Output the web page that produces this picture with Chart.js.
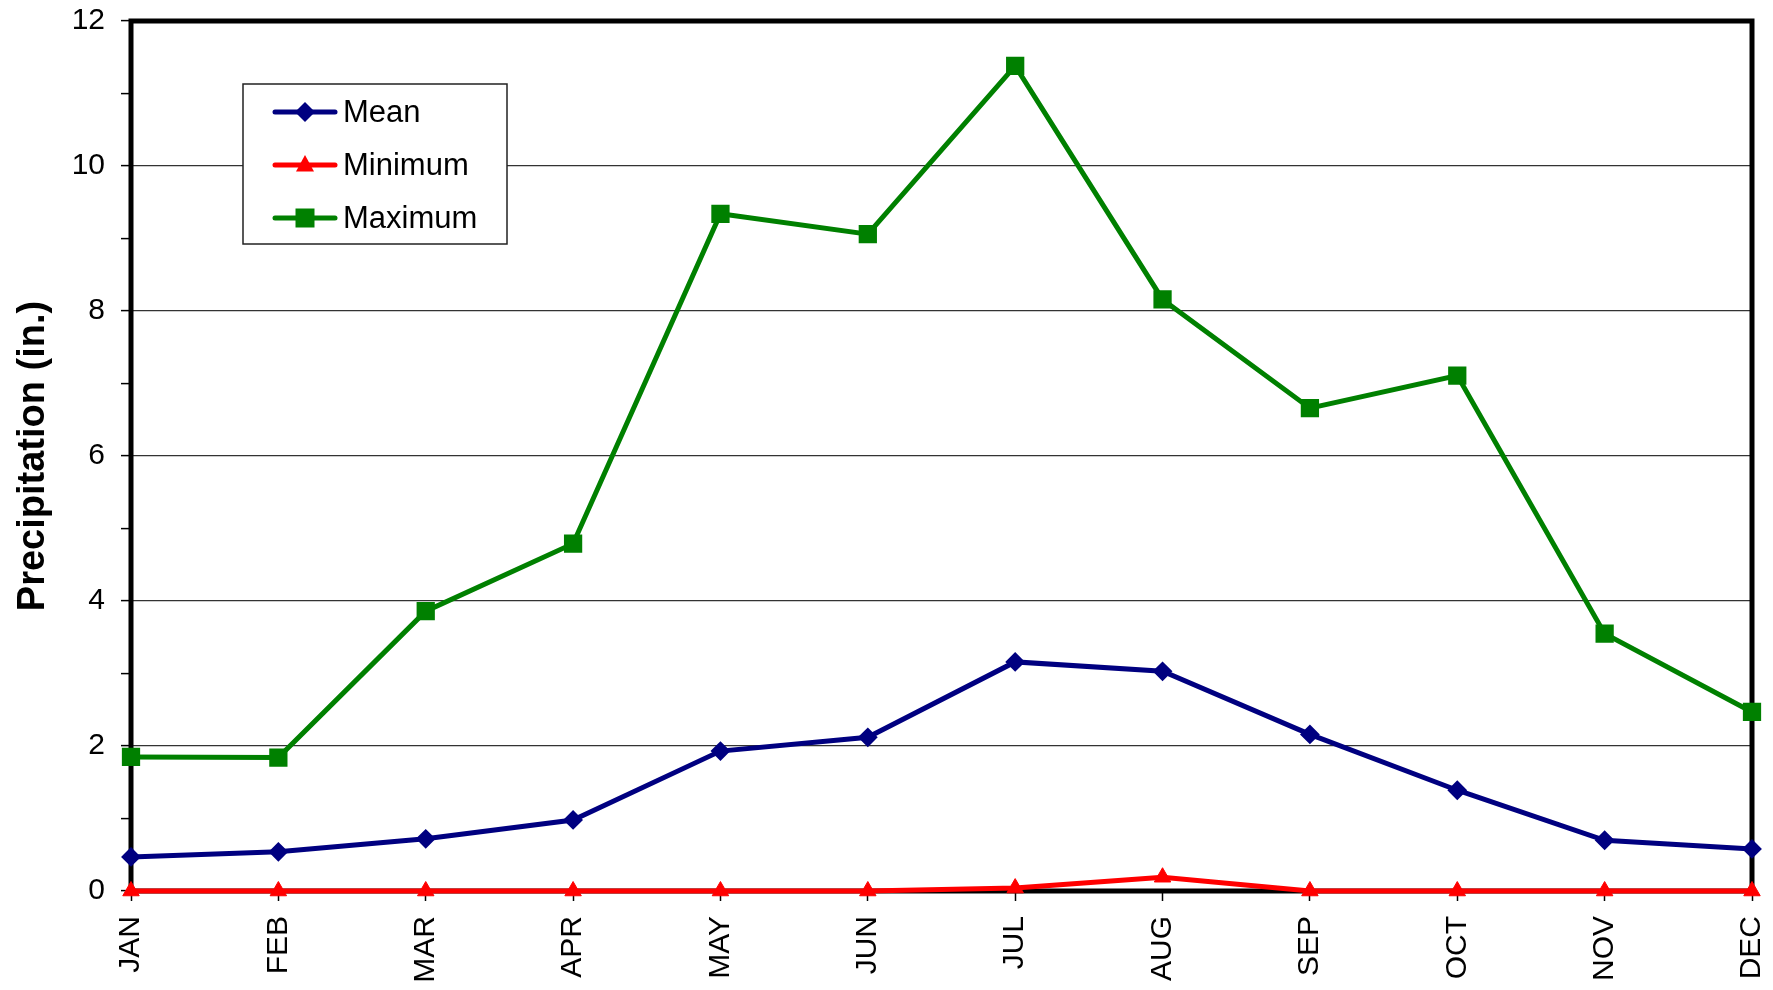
<!DOCTYPE html>
<html>
<head>
<meta charset="utf-8">
<script src="https://cdn.jsdelivr.net/npm/chart.js@4/dist/chart.umd.min.js"></script>
<style>
  html, body { margin: 0; padding: 0; background: #ffffff; }
  #wrap { width: 1773px; height: 990px; position: relative; }
</style>
</head>
<body>
<div id="wrap"><canvas id="c" width="1773" height="990"></canvas></div>
<script>
const months = ['JAN','FEB','MAR','APR','MAY','JUN','JUL','AUG','SEP','OCT','NOV','DEC'];
const meanValues = [0.47, 0.54, 0.72, 0.98, 1.93, 2.12, 3.16, 3.03, 2.16, 1.39, 0.70, 0.58];
const minValues  = [0, 0, 0, 0, 0, 0, 0.04, 0.19, 0, 0, 0, 0];
const maxValues  = [1.85, 1.84, 3.86, 4.79, 9.34, 9.06, 11.38, 8.16, 6.66, 7.11, 3.55, 2.47];
const yAxisTitle = 'Precipitation (in.)';
const seriesNames = ['Mean', 'Minimum', 'Maximum'];

const FONT = "'Liberation Sans', Arial, Helvetica, sans-serif";

const framePlugin = {
  id: 'frame',
  beforeDatasetsDraw(chart) {
    const a = chart.chartArea, ctx = chart.ctx;
    ctx.save();
    ctx.strokeStyle = '#000';
    ctx.lineWidth = 5;
    ctx.strokeRect(a.left, a.top, a.right - a.left, a.bottom - a.top);
    ctx.restore();
  }
};

function drawMarker(ctx, style, x, y, color) {
  ctx.save();
  ctx.fillStyle = color;
  ctx.beginPath();
  if (style === 'rectRot') {
    const r = 10;
    ctx.moveTo(x, y - r); ctx.lineTo(x + r, y); ctx.lineTo(x, y + r); ctx.lineTo(x - r, y);
  } else if (style === 'triangle') {
    const r = 10;
    ctx.moveTo(x, y - r); ctx.lineTo(x + r * 0.9, y + r * 0.65); ctx.lineTo(x - r * 0.9, y + r * 0.65);
  } else {
    const s = 9.5;
    ctx.rect(x - s, y - s, 2 * s, 2 * s);
  }
  ctx.closePath();
  ctx.fill();
  ctx.restore();
}

const legendPlugin = {
  id: 'boxLegend',
  afterDatasetsDraw(chart) {
    const ctx = chart.ctx;
    const bx = 243, by = 84, bw = 264, bh = 160;
    ctx.save();
    ctx.fillStyle = '#fff';
    ctx.fillRect(bx, by, bw, bh);
    ctx.strokeStyle = '#222';
    ctx.lineWidth = 1.5;
    ctx.strokeRect(bx, by, bw, bh);
    const rows = [112, 165, 218];
    chart.data.datasets.forEach((ds, i) => {
      const y = rows[i];
      ctx.strokeStyle = ds.borderColor;
      ctx.lineWidth = 5;
      ctx.lineCap = 'round';
      ctx.beginPath();
      ctx.moveTo(275, y); ctx.lineTo(335, y);
      ctx.stroke();
      drawMarker(ctx, ds.pointStyle, 305, y, ds.pointBackgroundColor);
      ctx.fillStyle = '#000';
      ctx.font = '31px ' + FONT;
      ctx.textBaseline = 'middle';
      ctx.textAlign = 'left';
      ctx.fillText(ds.label, 343, y + 1);
    });
    ctx.restore();
  }
};

new Chart(document.getElementById('c'), {
  type: 'line',
  data: {
    labels: months,
    datasets: [
      { label: seriesNames[0], data: meanValues, borderColor: '#000080', backgroundColor: '#000080',
        pointBackgroundColor: '#000080', pointBorderColor: '#000080', pointStyle: 'rectRot',
        pointRadius: 8.5, pointBorderWidth: 2, borderWidth: 5, tension: 0, clip: false, order: 2 },
      { label: seriesNames[1], data: minValues, borderColor: '#FF0000', backgroundColor: '#FF0000',
        pointBackgroundColor: '#FF0000', pointBorderColor: '#FF0000', pointStyle: 'triangle',
        pointRadius: 9.5, pointBorderWidth: 1, borderWidth: 5, tension: 0, clip: false, order: 1 },
      { label: seriesNames[2], data: maxValues, borderColor: '#008000', backgroundColor: '#008000',
        pointBackgroundColor: '#008000', pointBorderColor: '#008000', pointStyle: 'rect',
        pointRadius: 11.5, pointBorderWidth: 2, borderWidth: 5, tension: 0, clip: false, order: 3 }
    ]
  },
  options: {
    responsive: false,
    animation: false,
    layout: { padding: { left: 0, top: 21, right: 21, bottom: 0 } },
    plugins: { legend: { display: false }, tooltip: { enabled: false } },
    scales: {
      x: {
        type: 'category',
        offset: false,
        afterFit(scale) { scale.height = 99; scale.paddingLeft = 0; scale.paddingRight = 0; },
        grid: { drawOnChartArea: false, drawTicks: true, tickLength: 10, tickColor: '#000', tickWidth: 1.5 },
        border: { display: false },
        ticks: { autoSkip: false, maxRotation: 90, minRotation: 90, padding: 15, color: '#000',
                 font: { family: FONT, size: 30 } }
      },
      y: {
        min: 0, max: 12,
        afterFit(scale) { scale.width = 131; scale.paddingTop = 0; scale.paddingBottom = 0; },
        grid: {
          color: (c) => (c.tick && c.tick.value % 2 === 0) ? '#333' : 'rgba(0,0,0,0)',
          lineWidth: 1.2,
          tickColor: '#000', tickLength: 10, tickWidth: 1.5
        },
        border: { display: false },
        ticks: { stepSize: 1, padding: 16, color: '#000',
                 font: { family: FONT, size: 30 },
                 callback: (v) => (v % 2 === 0 ? String(v) : '') },
        title: { display: true, text: yAxisTitle, color: '#000',
                 font: { family: FONT, size: 38, weight: 'bold' },
                 padding: { top: 11, bottom: 0 } }
      }
    }
  },
  plugins: [framePlugin, legendPlugin]
});
</script>
</body>
</html>
